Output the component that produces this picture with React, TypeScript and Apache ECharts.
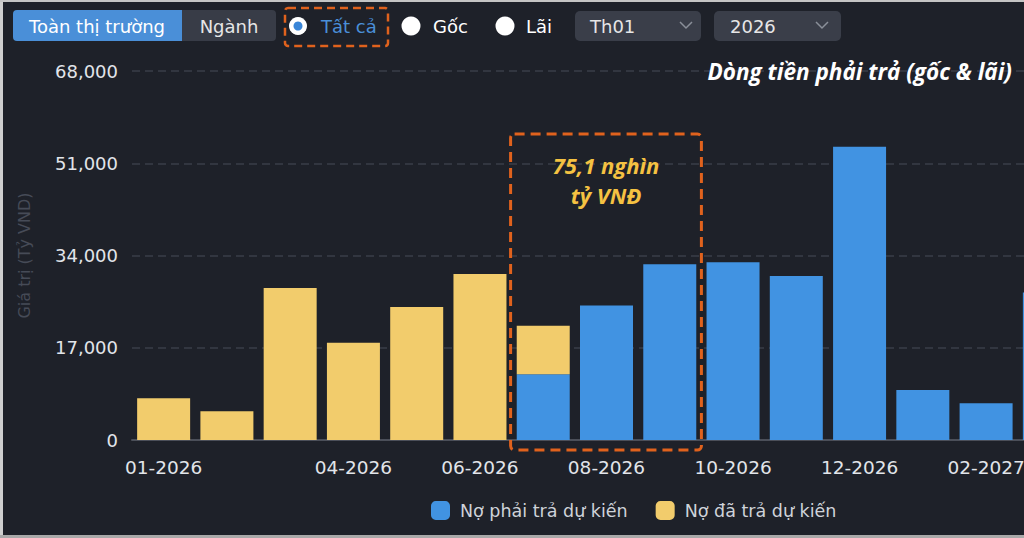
import React, { useEffect, useRef } from "react";
import * as echarts from "echarts";

// ---- Data ----
const categories = [
  "01-2026", "02-2026", "03-2026", "04-2026", "05-2026", "06-2026", "07-2026",
  "08-2026", "09-2026", "10-2026", "11-2026", "12-2026", "01-2027", "02-2027", "03-2027",
];
// Nợ phải trả dự kiến (blue, bottom of stack)
const noPhaiTra: (number | null)[] = [
  null, null, null, null, null, null, 12100,
  24800, 32400, 32750, 30200, 54050, 9200, 6750, 27200,
];
// Nợ đã trả dự kiến (yellow, top of stack)
const noDaTra: (number | null)[] = [
  7700, 5300, 28000, 17900, 24500, 30600, 8950,
  null, null, null, null, null, null, null, null,
];
const yMin = 0;
const yMax = 68000;
const yInterval = 17000;
const shownLabelIndexes = [0, 3, 5, 7, 9, 11, 13];
const seriesNames = ["Nợ phải trả dự kiến", "Nợ đã trả dự kiến"];
const highlightRange = [6, 8];
const highlightText = ["75,1 nghìn", "tỷ VNĐ"];
const chartTitle = "Dòng tiền phải trả (gốc & lãi)";
const yAxisName = "Giá trị (Tỷ VND)";

const BLUE = "#4193e2";
const YELLOW = "#f2cc6c";
const BG = "#1e2129";
const FONT = "'DejaVu Sans', sans-serif";
const FONT_TITLE = "'Open Sans', 'Noto Sans', sans-serif";
const UI_BLUE = "#4a8fd8";
const ORANGE = "#e0621d";

function uiText(text: string, x: number, y: number, fill: string, align = "left") {
  return {
    type: "text",
    z: 10,
    style: {
      text,
      x,
      y,
      fill,
      fontFamily: FONT,
      fontSize: 18,
      textAlign: align,
      textVerticalAlign: "middle",
    },
  };
}

function chevron(x: number, y: number) {
  return {
    type: "polyline",
    z: 10,
    shape: { points: [[x - 6, y - 3], [x, y + 3], [x + 6, y - 3]] },
    style: { stroke: "#8a8f99", lineWidth: 1.5, fill: "none" },
  };
}

export default function App() {
  const ref = useRef<HTMLDivElement>(null);

  useEffect(() => {
    if (!ref.current) return;
    const chart = echarts.init(ref.current, undefined, { renderer: "svg" });

    const option: any = {
      animation: false,
      backgroundColor: BG,
      grid: { left: 132, top: 71, right: 0, height: 369, containLabel: false },
      legend: {
        left: 431,
        top: 501,
        padding: 0,
        itemWidth: 19,
        itemHeight: 19,
        itemGap: 28,
        data: seriesNames,
        textStyle: {
          color: "#cfd3da",
          fontSize: 17.5,
          fontFamily: FONT,
          padding: [0, 0, 0, 5],
        },
      },
      xAxis: {
        type: "category",
        data: categories,
        axisLine: { show: true, lineStyle: { color: "#4b4f59", width: 2 } },
        axisTick: { show: false },
        axisLabel: {
          color: "#e2e5ea",
          fontSize: 18.5,
          fontFamily: FONT,
          margin: 18,
          interval: (idx: number) => shownLabelIndexes.includes(idx),
        },
      },
      yAxis: {
        type: "value",
        min: yMin,
        max: yMax,
        interval: yInterval,
        name: yAxisName,
        nameLocation: "middle",
        nameGap: 100,
        nameTextStyle: { color: "#464b57", fontSize: 16, fontFamily: FONT },
        axisLine: { show: false },
        axisTick: { show: false },
        axisLabel: {
          color: "#e2e5ea",
          fontSize: 18,
          fontFamily: FONT,
          margin: 14,
          formatter: (v: number) => v.toLocaleString("en-US"),
        },
        splitLine: {
          show: true,
          lineStyle: { color: "#3a3e48", type: [8, 5], width: 1.5 },
        },
      },
      series: [
        {
          name: seriesNames[0],
          type: "bar",
          stack: "total",
          data: noPhaiTra,
          barWidth: 53,
          itemStyle: { color: BLUE },
          emphasis: { disabled: true },
        },
        {
          name: seriesNames[1],
          type: "bar",
          stack: "total",
          data: noDaTra,
          barWidth: 53,
          itemStyle: { color: YELLOW },
          emphasis: { disabled: true },
        },
      ],
    };
    chart.setOption(option);

    // compute highlight box x-extent from the category axis
    const x0 = chart.convertToPixel({ xAxisIndex: 0 }, highlightRange[0]) as number;
    const x1 = chart.convertToPixel({ xAxisIndex: 0 }, highlightRange[0] + 1) as number;
    const x2 = chart.convertToPixel({ xAxisIndex: 0 }, highlightRange[1]) as number;
    const half = (x1 - x0) / 2;
    const boxLeft = x0 - half - 1;
    const boxRight = x2 + half;
    const boxCenter = (boxLeft + boxRight) / 2;

    const graphic: any[] = [
      // outer frame edges
      { type: "rect", z: 20, shape: { x: 0, y: 0, width: 3, height: 538 }, style: { fill: "#cfcfcf" } },
      { type: "rect", z: 20, shape: { x: 0, y: 0, width: 1100, height: 2 }, style: { fill: "#c4c4c4" } },
      { type: "rect", z: 20, shape: { x: 0, y: 535, width: 1100, height: 3 }, style: { fill: "#a9a9a9" } },
      // segmented control
      { type: "rect", z: 9, shape: { x: 13, y: 10, width: 169, height: 31, r: [4, 0, 0, 4] }, style: { fill: UI_BLUE } },
      { type: "rect", z: 9, shape: { x: 182, y: 10, width: 94, height: 31, r: [0, 4, 4, 0] }, style: { fill: "#383c47" } },
      uiText("Toàn thị trường", 97, 26, "#ffffff", "center"),
      uiText("Ngành", 229, 26, "#e6e6e6", "center"),
      // highlighted radio group
      {
        type: "rect",
        z: 10,
        shape: { x: 285, y: 8, width: 103, height: 38, r: 3 },
        style: { fill: "none", stroke: ORANGE, lineWidth: 2.5, lineDash: [8, 5] },
      },
      { type: "circle", z: 10, shape: { cx: 298, cy: 26, r: 9 }, style: { fill: "#ffffff" } },
      { type: "circle", z: 11, shape: { cx: 298, cy: 26, r: 4.5 }, style: { fill: "#3a86d8" } },
      uiText("Tất cả", 321, 26, UI_BLUE),
      { type: "circle", z: 10, shape: { cx: 411, cy: 26, r: 9.5 }, style: { fill: "#ffffff" } },
      uiText("Gốc", 433, 26, "#ffffff"),
      { type: "circle", z: 10, shape: { cx: 505, cy: 26, r: 9.5 }, style: { fill: "#ffffff" } },
      uiText("Lãi", 526, 26, "#ffffff"),
      // dropdowns
      { type: "rect", z: 9, shape: { x: 575, y: 11, width: 126, height: 30, r: 5 }, style: { fill: "#3a3e49" } },
      uiText("Th01", 590, 26, "#e6e6e6"),
      chevron(686, 25),
      { type: "rect", z: 9, shape: { x: 714, y: 11, width: 127, height: 30, r: 5 }, style: { fill: "#3a3e49" } },
      uiText("2026", 730, 26, "#e6e6e6"),
      chevron(822, 25),
      // chart title
      {
        type: "text",
        z: 10,
        style: {
          text: chartTitle,
          x: 1012,
          y: 71,
          fill: "#ffffff",
          fontFamily: FONT_TITLE,
          fontSize: 22.5,
          fontWeight: "bold",
          fontStyle: "italic",
          textAlign: "right",
          textVerticalAlign: "middle",
        },
      },
      // highlight box
      {
        type: "rect",
        z: 10,
        shape: { x: boxLeft, y: 134, width: boxRight - boxLeft, height: 316, r: 4 },
        style: { fill: "none", stroke: ORANGE, lineWidth: 3, lineDash: [10, 6] },
      },
      {
        type: "text",
        z: 10,
        style: {
          text: highlightText[0],
          x: boxCenter,
          y: 165,
          fill: "#f5c242",
          fontFamily: FONT_TITLE,
          fontSize: 22,
          fontWeight: "bold",
          fontStyle: "italic",
          textAlign: "center",
          textVerticalAlign: "middle",
        },
      },
      {
        type: "text",
        z: 10,
        style: {
          text: highlightText[1],
          x: boxCenter,
          y: 195,
          fill: "#f5c242",
          fontFamily: FONT_TITLE,
          fontSize: 22,
          fontWeight: "bold",
          fontStyle: "italic",
          textAlign: "center",
          textVerticalAlign: "middle",
        },
      },
    ];
    chart.setOption({ graphic });

    return () => chart.dispose();
  }, []);

  return (
    <div style={{ position: "fixed", left: 0, top: 0, width: 1024, height: 538, overflow: "hidden" }}>
      <div ref={ref} style={{ width: 1081, height: 538 }} />
    </div>
  );
}
